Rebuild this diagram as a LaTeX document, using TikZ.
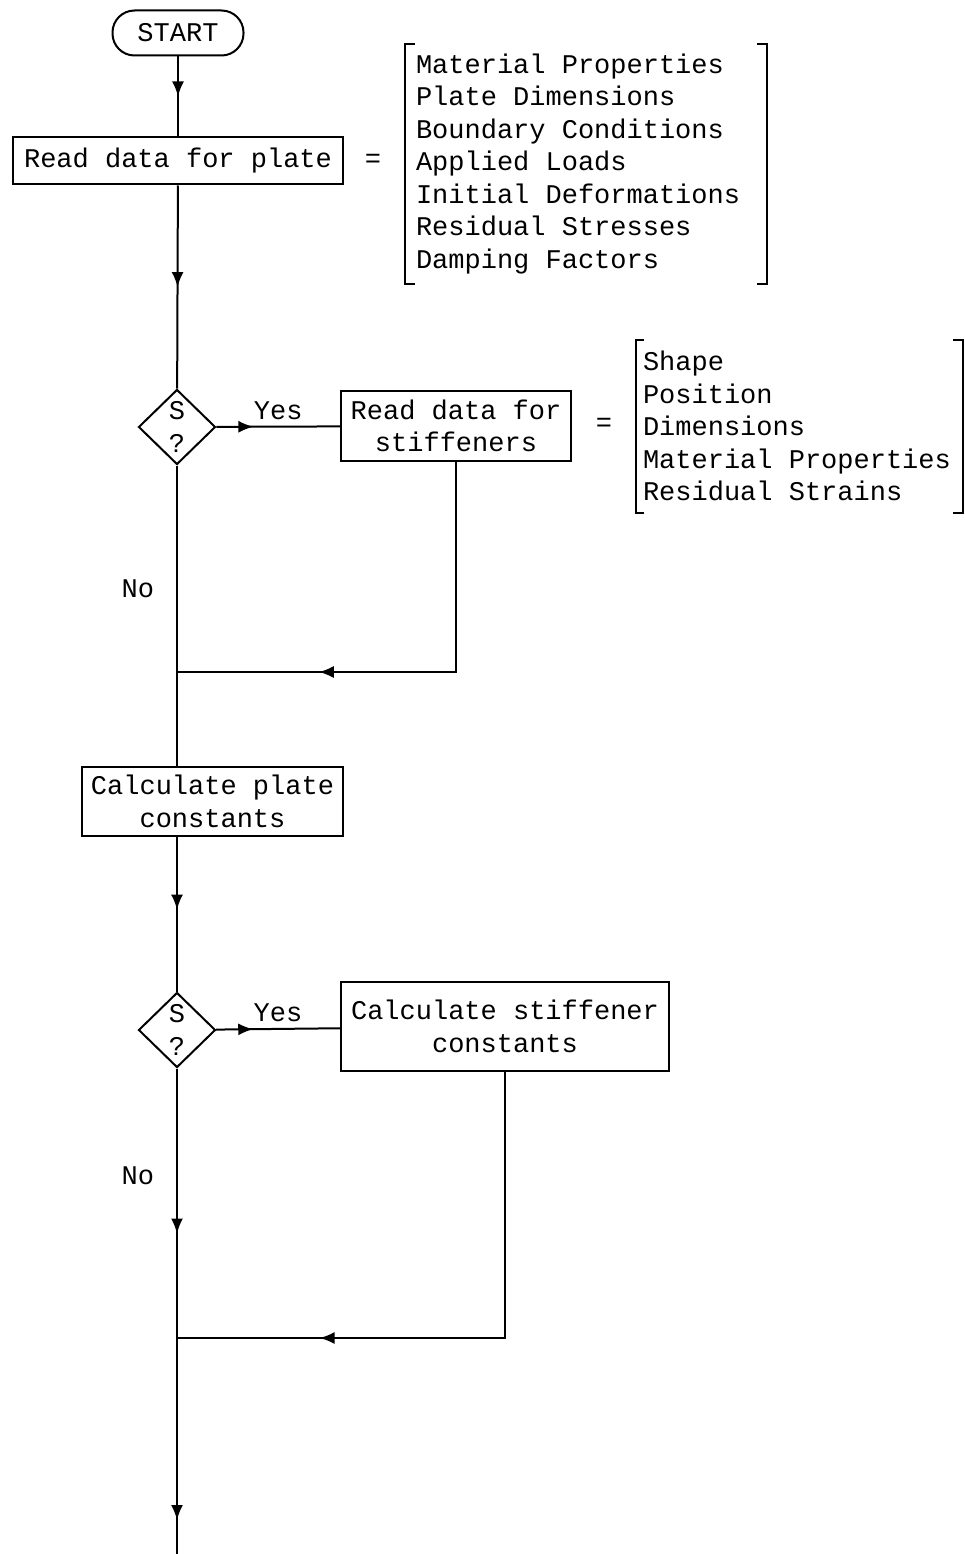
\documentclass[tikz,border=0pt]{standalone}
\usepackage{fontspec}
\setmonofont{Liberation Mono}
\usetikzlibrary{positioning,arrows.meta,shapes.geometric,decorations.markings}

\begin{document}
\begin{tikzpicture}[
    x=1pt, y=-1pt,
    line width=2pt,
    every node/.style={font=\ttfamily\fontsize{27}{32.5}\selectfont},
    terminal/.style={rectangle, draw, rounded corners=22pt, minimum width=131pt, minimum height=45pt, inner sep=0pt},
    process/.style={rectangle, draw, align=center, inner sep=0pt},
    decision/.style={diamond, draw, align=center, inner sep=0pt, minimum width=77pt, minimum height=75pt},
    datalist/.style={align=left, inner ysep=0pt, execute at begin node={\spaceskip=16.2pt\relax}},
    answer/.style={inner sep=6pt},
    midarrow/.style={postaction={decorate, decoration={markings, mark=at position #1 with {\arrow{Latex[length=15pt,width=12pt]}}}}}
]
\useasboundingbox (0,0) rectangle (965,1554);

% Start und Platte
\node[terminal] (start) at (178,33) {START};
\node[process, minimum width=330, minimum height=47] (rdp) at (178,161) {Read data for plate};
\node (eqa) at (373,161) {=};
\node[datalist, text width=340, inner xsep=10, minimum height=238] (plist) at (586,164) {Material Properties\\Plate Dimensions\\Boundary Conditions\\Applied Loads\\Initial Deformations\\Residual Stresses\\Damping Factors};

% Steifen einlesen
\node[decision] (dec1) at (177,427) {S\\?};
\node[process, minimum width=230, minimum height=70] (rds) at (456,426) {Read data for\\stiffeners};
\node (eqb) at (604,425) {=};
\node[datalist, text width=313, inner xsep=6, minimum height=171] (slist) at (799.5,426) {Shape\\Position\\Dimensions\\Material Properties\\Residual Strains};
\coordinate (j1) at (177,672);

% Konstanten
\node[process, minimum width=261, minimum height=69] (cpc) at (212.5,801.5) {Calculate plate\\constants};
\node[decision] (dec2) at (177,1030) {S\\?};
\node[process, minimum width=328, minimum height=89] (csc) at (505,1026.5) {Calculate stiffener\\constants};
\coordinate (j2) at (177,1338);
\coordinate (end) at (177,1554);

% Klammern
\draw ([xshift=10]plist.north west) -- (plist.north west) -- (plist.south west) -- ([xshift=10]plist.south west);
\draw ([xshift=-10]plist.north east) -- (plist.north east) -- (plist.south east) -- ([xshift=-10]plist.south east);
\draw ([xshift=8]slist.north west) -- (slist.north west) -- (slist.south west) -- ([xshift=8]slist.south west);
\draw ([xshift=-10]slist.north east) -- (slist.north east) -- (slist.south east) -- ([xshift=-10]slist.south east);

% Verbindungen
\draw[midarrow=0.5] (start) -- (rdp);
\draw[midarrow=0.5] (rdp) -- (dec1);
\draw[midarrow=0.3] (dec1) -- node[answer, above] (yes1) {Yes} (rds);
\draw (dec1) -- node[answer, pos=0.41, left=16pt] (no1) {No} (dec1 |- cpc.north);
\draw[midarrow=0.71] (rds.south) |- (j1);

\draw[midarrow=0.47] (dec2 |- cpc.south) -- (dec2);
\draw[midarrow=0.3] (dec2) -- node[answer, above] (yes2) {Yes} (csc);
\draw[midarrow=0.76] (csc.south) |- (j2);
\draw[midarrow=0.34, midarrow=0.93] (dec2) -- node[answer, pos=0.22, left=16pt] (no2) {No} (end);

\end{tikzpicture}
\end{document}
